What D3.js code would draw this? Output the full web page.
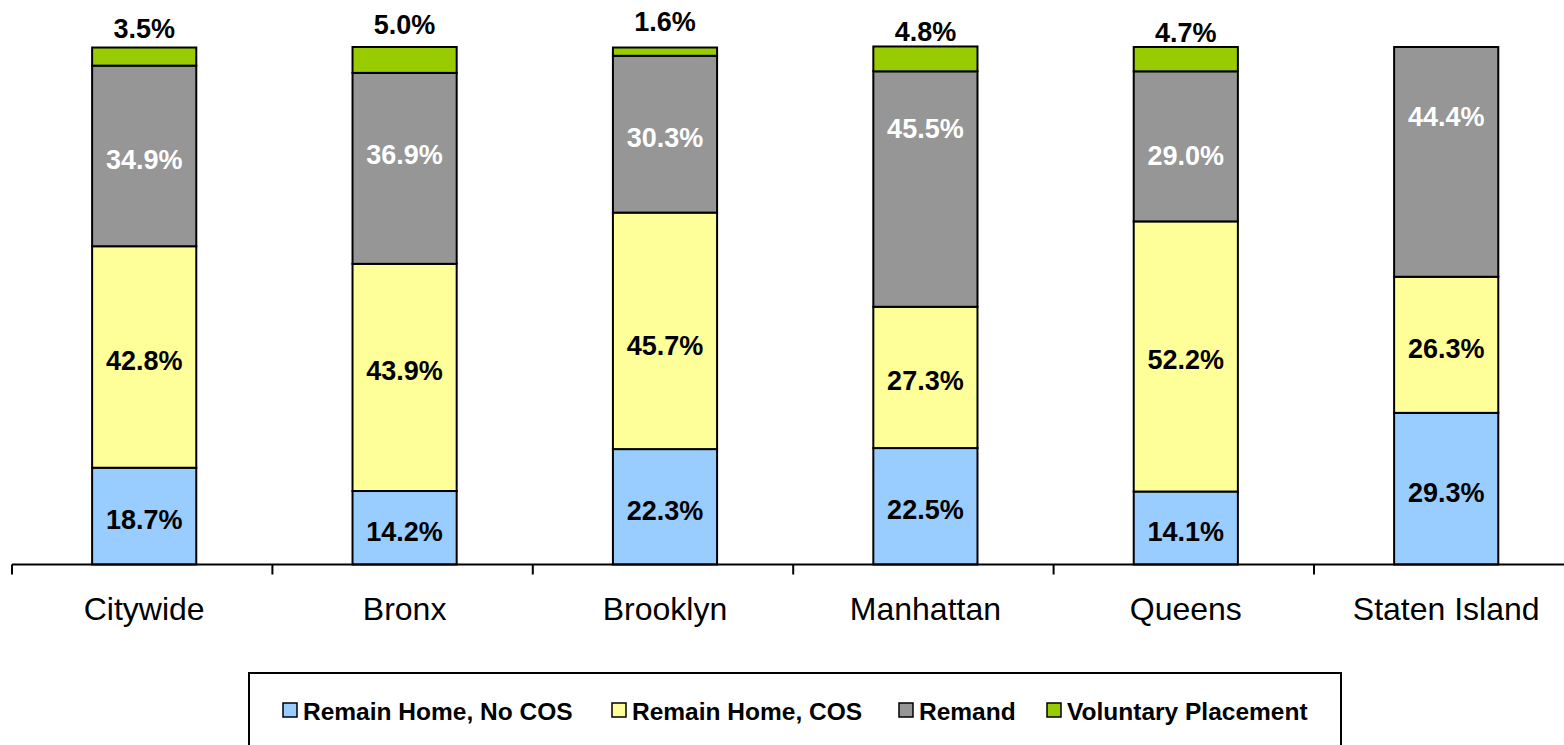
<!DOCTYPE html>
<html>
<head>
<meta charset="utf-8">
<script src="https://cdn.jsdelivr.net/npm/d3@7"></script>
<style>
  body { margin: 0; background: #fff; }
  text { font-family: Arial, "Liberation Sans", sans-serif; }
</style>
</head>
<body>
<svg id="chart"></svg>
<script>
// data
const categories = ['Citywide', 'Bronx', 'Brooklyn', 'Manhattan', 'Queens', 'Staten Island'];
const seriesNames = ['Remain Home, No COS', 'Remain Home, COS', 'Remand', 'Voluntary Placement'];
const remainNoCos = [18.7, 14.2, 22.3, 22.5, 14.1, 29.3];
const remainCos = [42.8, 43.9, 45.7, 27.3, 52.2, 26.3];
const remand = [34.9, 36.9, 30.3, 45.5, 29.0, 44.4];
const voluntary = [3.5, 5.0, 1.6, 4.8, 4.7, 0];

const colors = ['#99CCFF', '#FFFF99', '#969696', '#99CC00'];
const labelColors = ['#000', '#000', '#fff', '#000'];

// labels in the original were dragged by hand; vertical nudges in px
const labelNudge = {
  'Remain Home, COS': {Bronx: -10, Brooklyn: 11},
  'Remand': {Bronx: -17, Manhattan: -64, Queens: 6, 'Staten Island': -49},
  'Voluntary Placement': {Citywide: -10, Bronx: -13, Brooklyn: -17, Manhattan: -5, Queens: -5}
};

const width = 1564, height = 745;
const margin = {top: 47, left: 12};
const baseY = 564.5;
const step = 260.4;

const svg = d3.select('#chart').attr('width', width).attr('height', height);

const rows = categories.map((c, i) => ({
  cat: c,
  [seriesNames[0]]: remainNoCos[i],
  [seriesNames[1]]: remainCos[i],
  [seriesNames[2]]: remand[i],
  [seriesNames[3]]: voluntary[i]
}));

const stacked = d3.stack().keys(seriesNames)(rows);

const x = d3.scaleBand()
    .domain(categories)
    .range([margin.left + 2, margin.left + 2 + step * categories.length])
    .paddingInner(0.6)
    .paddingOuter(0.3);

const y = d3.scaleLinear().domain([0, 100]).range([baseY, margin.top]);

// bars
const layer = svg.selectAll('.layer')
  .data(stacked)
  .join('g')
    .attr('class', 'layer')
    .attr('fill', (d, i) => colors[i]);

layer.selectAll('rect')
  .data(d => d.filter(p => p[1] - p[0] > 0))
  .join('rect')
    .attr('x', d => x(d.data.cat))
    .attr('width', x.bandwidth())
    .attr('y', d => y(d[1]))
    .attr('height', d => y(d[0]) - y(d[1]))
    .attr('stroke', '#000')
    .attr('stroke-width', 2);

// segment labels (voluntary sits above the bar)
stacked.forEach((s, si) => {
  const nudge = labelNudge[s.key] || {};
  svg.append('g').selectAll('text')
    .data(s.filter(p => p[1] - p[0] > 0))
    .join('text')
      .attr('x', d => x(d.data.cat) + x.bandwidth() / 2)
      .attr('y', d => {
        const base = si === 3 ? y(d[1]) : (y(d[0]) + y(d[1])) / 2 + 13;
        return base + (nudge[d.data.cat] || 0);
      })
      .attr('text-anchor', 'middle')
      .attr('font-size', 27)
      .attr('font-weight', 'bold')
      .attr('fill', labelColors[si])
      .text(d => (d[1] - d[0]).toFixed(1) + '%');
});

// x axis
const xAxis = d3.axisBottom(x).tickSize(0).tickSizeOuter(0);
const axisG = svg.append('g')
    .attr('transform', `translate(0,${baseY})`)
    .call(xAxis);
axisG.select('.domain').attr('stroke', '#000').attr('stroke-width', 2)
    .attr('d', `M${margin.left},0H${width + 20}`);
axisG.selectAll('.tick text')
    .attr('font-size', 32)
    .attr('fill', '#000')
    .attr('dy', 0)
    .attr('y', 55)
    .style('font-family', 'Arial, "Liberation Sans", sans-serif');

// boundary tick marks between categories
axisG.selectAll('.sep')
  .data(d3.range(categories.length + 1))
  .join('line')
    .attr('class', 'sep')
    .attr('x1', i => margin.left + i * step)
    .attr('x2', i => margin.left + i * step)
    .attr('y1', 0)
    .attr('y2', 10)
    .attr('stroke', '#000')
    .attr('stroke-width', 2);

// legend
const legend = svg.append('g');
legend.append('rect')
    .attr('x', 249).attr('y', 673)
    .attr('width', 1092).attr('height', 90)
    .attr('fill', '#fff')
    .attr('stroke', '#000')
    .attr('stroke-width', 2);

const legendX = [283, 612, 899, 1047];
const items = legend.selectAll('.item')
  .data(seriesNames)
  .join('g')
    .attr('class', 'item')
    .attr('transform', (d, i) => `translate(${legendX[i]},703)`);

items.append('rect')
    .attr('x', 0).attr('y', 0)
    .attr('width', 14).attr('height', 14)
    .attr('fill', (d, i) => colors[i])
    .attr('stroke', '#000')
    .attr('stroke-width', 1.5);

items.append('text')
    .attr('x', 20)
    .attr('y', 17)
    .attr('font-size', 24.5)
    .attr('font-weight', 'bold')
    .text(d => d);
</script>
</body>
</html>
